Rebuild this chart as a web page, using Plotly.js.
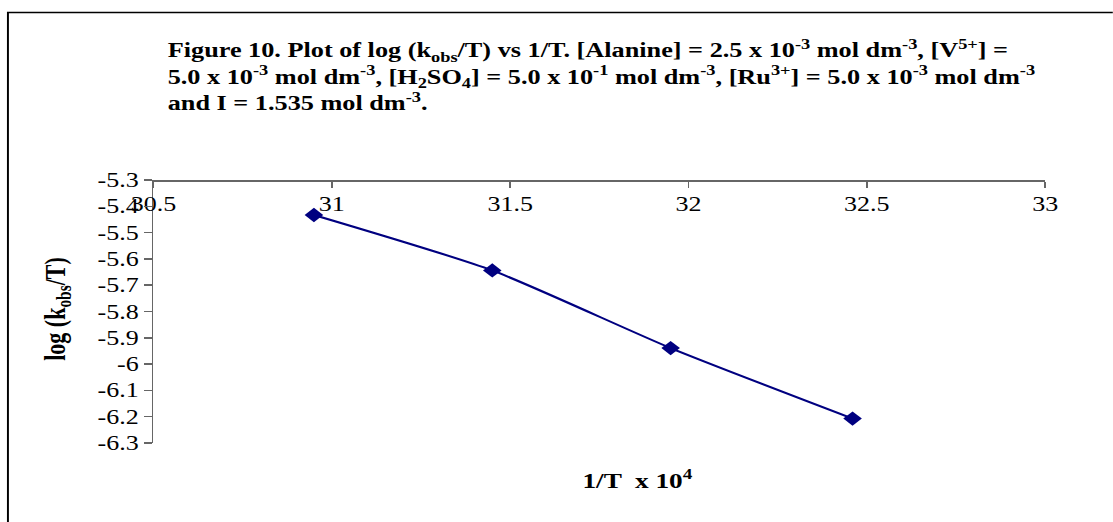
<!DOCTYPE html>
<html>
<head>
<meta charset="utf-8">
<script src="https://cdn.plot.ly/plotly-3.0.1.min.js"></script>
<style>
  html, body { margin: 0; padding: 0; background: #fff; overflow: hidden; }
  #wrap { width: 1113px; height: 522px; overflow: hidden; }
  /* the reference image is horizontally stretched: reproduce by scaling the whole chart */
  #chart { transform-origin: 0 0; }
</style>
</head>
<body>
<div id="wrap"><div id="chart"></div></div>
<script>
// Data
const invT = [30.95, 31.45, 31.95, 32.46];           // 1/T x 10^4
const logKobsT = [-5.433, -5.644, -5.939, -6.207];   // log (kobs/T)

const xTicks = [30.5, 31, 31.5, 32, 32.5, 33];
const yTicks = [-5.3, -5.4, -5.5, -5.6, -5.7, -5.8, -5.9, -6, -6.1, -6.2, -6.3];

const titleText = 'Figure 10. Plot of log (k<sub>obs</sub>/T) vs 1/T. [Alanine] = 2.5 x 10<sup>-3</sup> mol dm<sup>-3</sup>, [V<sup>5+</sup>] =<br>' +
  '5.0 x 10<sup>-3</sup> mol dm<sup>-3</sup>, [H<sub>2</sub>SO<sub>4</sub>] = 5.0 x 10<sup>-1</sup> mol dm<sup>-3</sup>, [Ru<sup>3+</sup>] = 5.0 x 10<sup>-3</sup> mol dm<sup>-3</sup><br>' +
  'and I = 1.535 mol dm<sup>-3</sup>.';
const xTitle = '1/T  x 10<sup>4</sup>';
const yTitle = 'log (k<sub>obs</sub>/T)';

const S = 1.3;                       // horizontal stretch of the reference
const W = 1113, H = 522;
const L = 154, R = W - 1046, T = 180, B = H - 443;   // in reference pixels
const pw = W - L - R, ph = H - T - B;
const px = p => (p - L) / pw;        // reference pixel -> paper x
const py = p => (H - B - p) / ph;    // reference pixel -> paper y

const serif = '"Liberation Serif", "Times New Roman", serif';

const trace = {
  x: invT,
  y: logKobsT,
  type: 'scatter',
  mode: 'lines+markers',
  line: { color: '#000080', width: 2, shape: 'spline', smoothing: 0.6 },
  marker: { symbol: 'diamond', size: 11, color: '#000080' },
  showlegend: false,
  cliponaxis: false
};

const layout = {
  width: W / S, height: H,
  margin: { l: L / S, r: R / S, t: T, b: B, pad: 0 },
  paper_bgcolor: '#fff',
  plot_bgcolor: '#fff',
  showlegend: false,
  font: { family: serif, color: '#000', size: 20 },
  xaxis: {
    range: [30.5, 33],
    tickvals: xTicks,
    ticktext: xTicks.map(String),
    anchor: 'free',
    position: 1,
    side: 'bottom',
    showline: true, linecolor: '#666', linewidth: 1.5,
    ticks: 'outside', ticklen: 6, tickwidth: 1.3, tickcolor: '#666',
    showgrid: false, zeroline: false,
    tickfont: { family: serif, size: 20, color: '#000' }
  },
  yaxis: {
    range: [-6.3, -5.3],
    tickvals: yTicks,
    ticktext: yTicks.map(v => String(v)),
    showline: true, linecolor: '#666', linewidth: 1.3,
    ticks: 'outside', ticklen: 6, tickwidth: 1.5, tickcolor: '#666',
    ticklabelstandoff: 4.5,
    showgrid: false, zeroline: false,
    tickfont: { family: serif, size: 20, color: '#000' }
  },
  annotations: [
    {
      text: '<b>' + titleText + '</b>',
      xref: 'paper', yref: 'paper',
      x: px(166), y: py(34),
      xanchor: 'left', yanchor: 'top', align: 'left',
      showarrow: false,
      font: { family: serif, size: 20.2, color: '#000' }
    },
    {
      text: '<b>' + xTitle + '</b>',
      xref: 'paper', yref: 'paper',
      x: px(639), y: py(479),
      xanchor: 'center', yanchor: 'middle',
      showarrow: false,
      font: { family: serif, size: 21, color: '#000' }
    },
    {
      text: '<b>' + yTitle + '</b>',
      xref: 'paper', yref: 'paper',
      x: px(57.5), y: py(309),
      xanchor: 'center', yanchor: 'middle',
      textangle: -90,
      showarrow: false,
      font: { family: serif, size: 22, color: '#000' }
    }
  ],
  shapes: [
    {
      type: 'rect', xref: 'paper', yref: 'paper',
      x0: px(8.5), x1: px(1125), y0: py(12.5), y1: py(540),
      line: { color: '#000', width: 1.5 }, fillcolor: 'rgba(0,0,0,0)'
    }
  ]
};

const gd = document.getElementById('chart');
gd.style.width = (W / S) + 'px';
gd.style.height = H + 'px';
gd.style.transform = 'scaleX(' + S + ')';
Plotly.newPlot(gd, [trace], layout, { staticPlot: true, displayModeBar: false });
</script>
</body>
</html>
